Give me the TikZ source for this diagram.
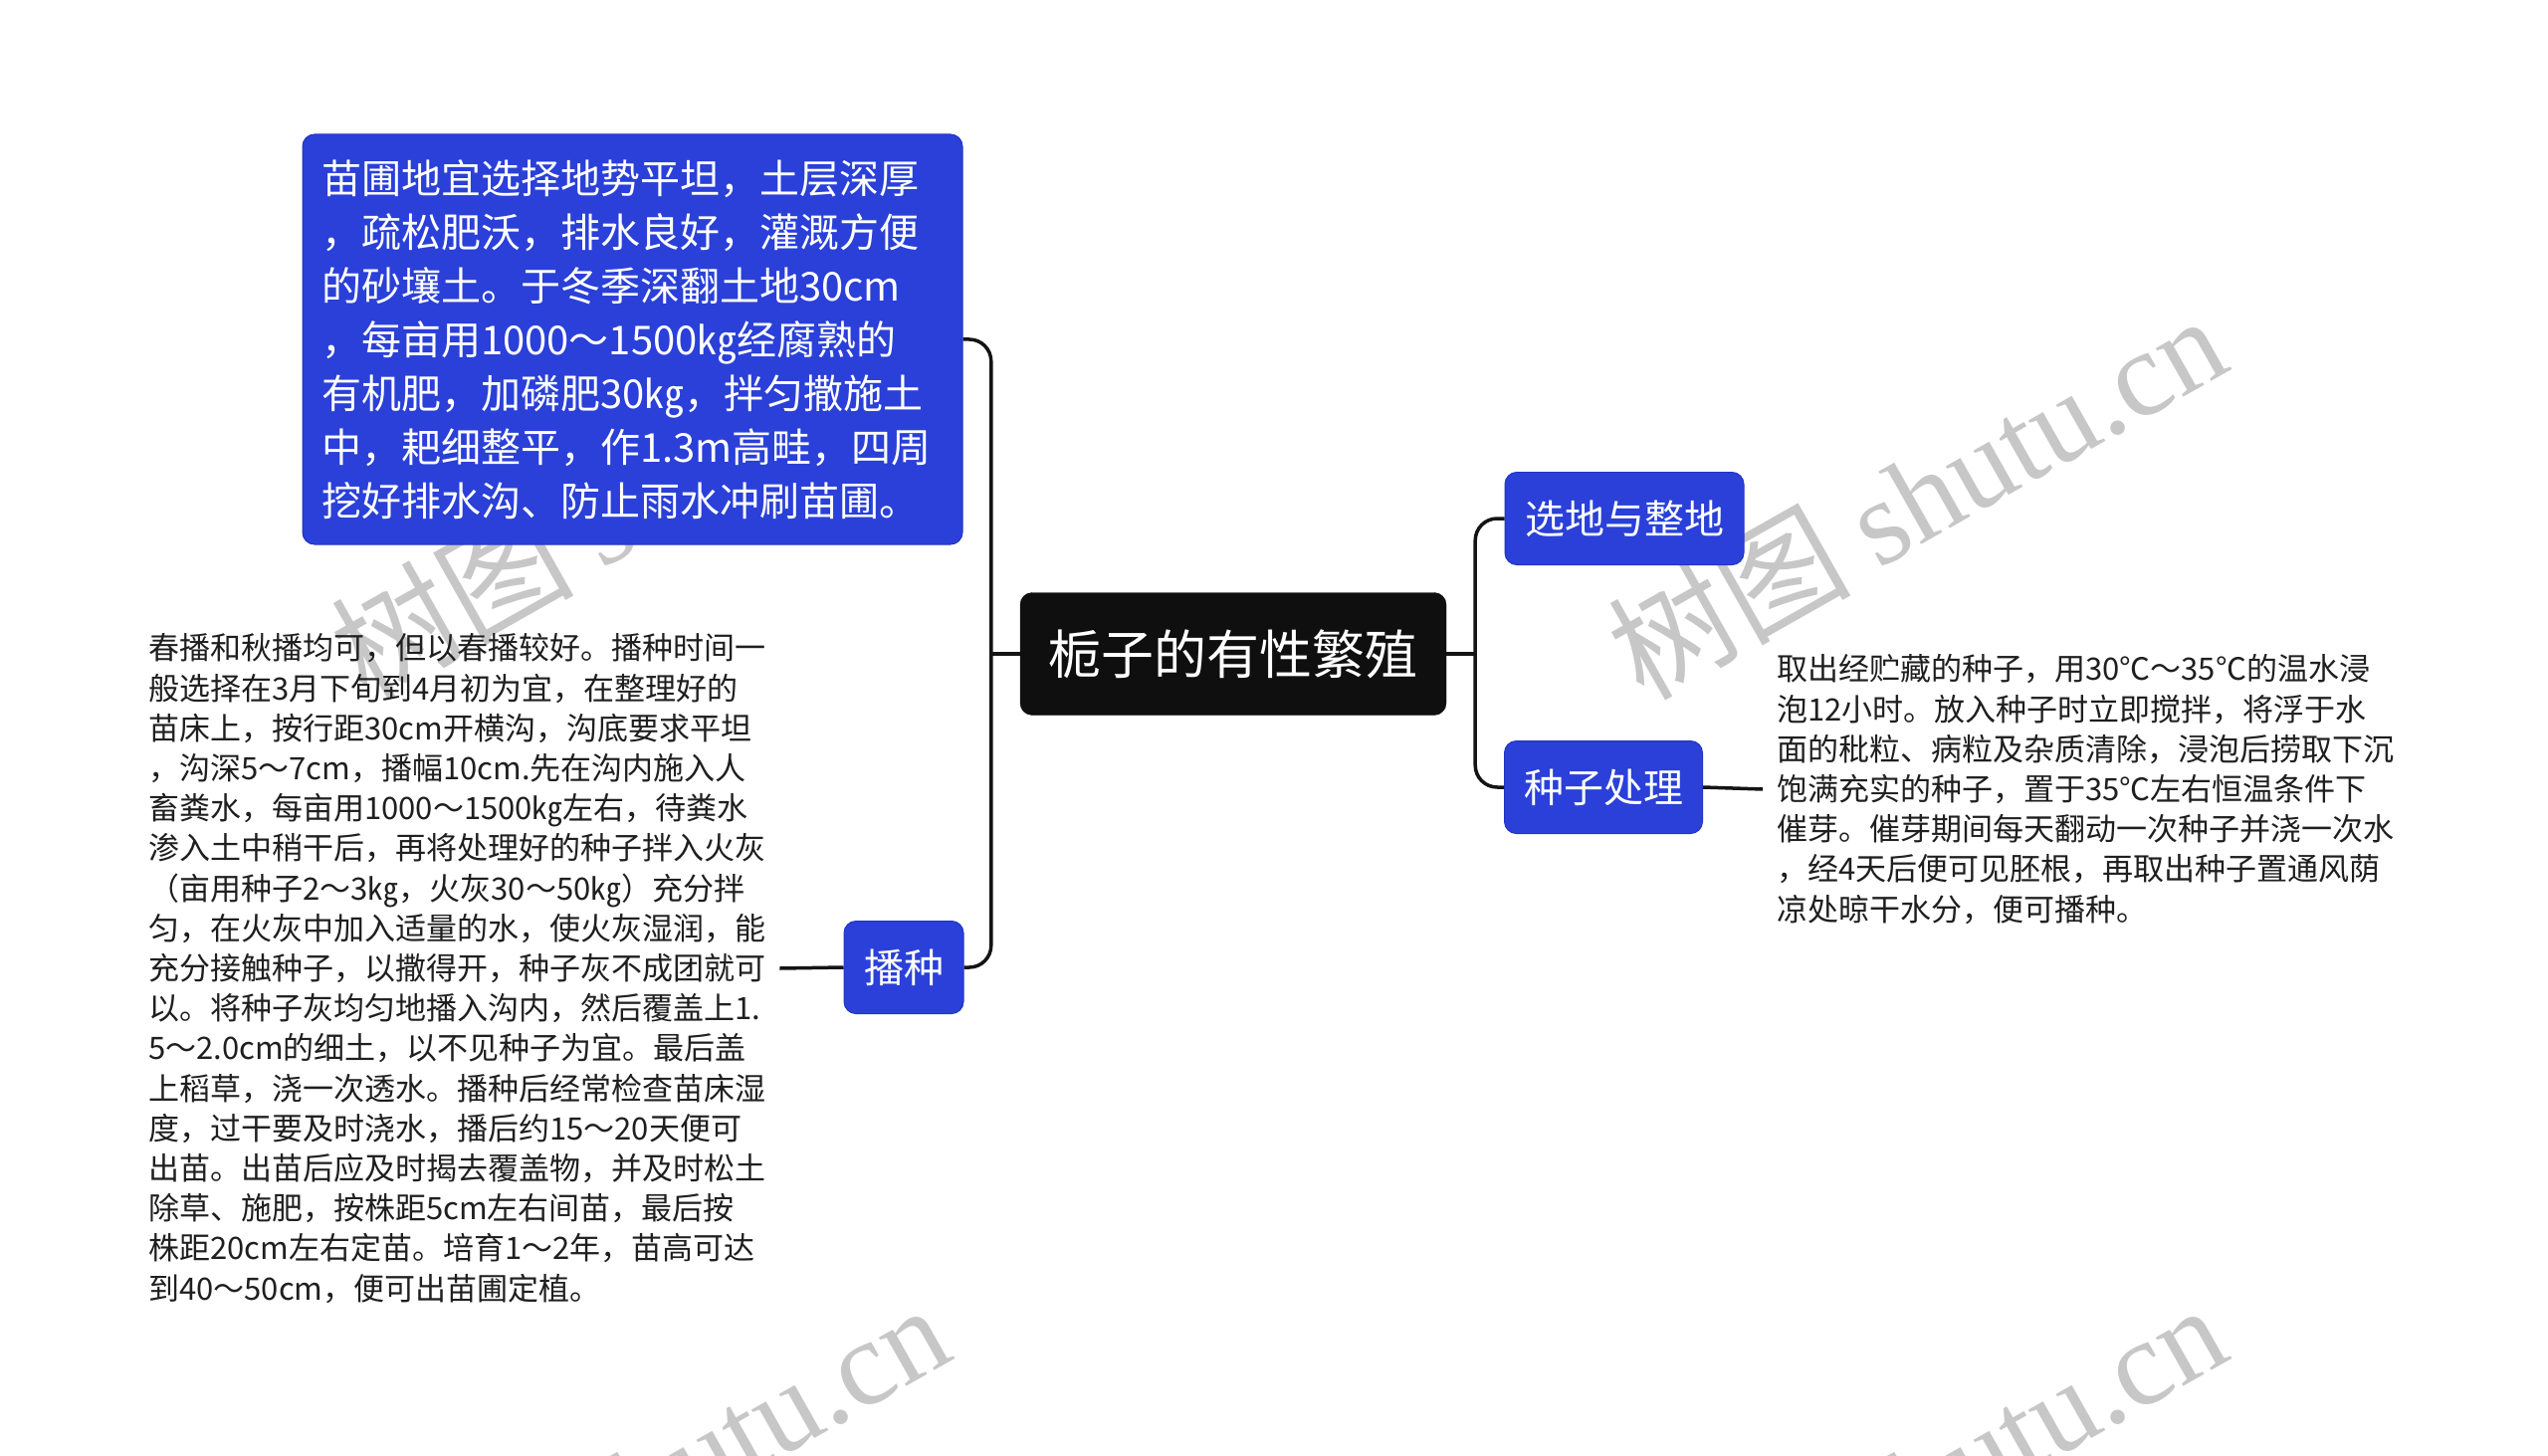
\documentclass[tikz,border=0pt]{standalone}
\usepackage{fontspec}
\setmainfont{Noto Sans CJK SC}
\newfontfamily\wmlatin{Liberation Serif}
\usetikzlibrary{calc}
\definecolor{nodeblue}{HTML}{2A40D8}
\definecolor{nodeblueline}{HTML}{2235C4}
\definecolor{rootblack}{HTML}{0F0F0F}
\tikzset{
  rootbox/.style={fill=rootblack, draw=rootblack, rounded corners=12pt, text=white,
    minimum width=428pt, minimum height=123pt, inner sep=0pt,
    font=\fontsize{53}{60}\selectfont},
  bluebox/.style={fill=nodeblue, draw=nodeblueline, line width=1pt, rounded corners=12pt, text=white,
    minimum height=93pt, inner sep=0pt, font=\fontsize{40}{48}\selectfont},
  bigbox/.style={fill=nodeblue, draw=nodeblueline, line width=1pt,
    rounded corners=12pt, text=white,
    text width=625pt, inner xsep=19pt, inner ysep=10pt, minimum height=412pt, align=left,
    font=\fontsize{40}{54}\selectfont},
  plaintext/.style={text=black!88, align=left, inner xsep=14pt, inner ysep=0pt,
    font=\fontsize{31}{40.2}\selectfont},
  conn/.style={line width=3.5pt, draw=black!92, rounded corners=22pt},
  wm/.style={rotate=29.5, anchor=base west, inner sep=0pt, text=black!22,
    font=\fontsize{122}{122}\selectfont}
}
\begin{document}
\begin{tikzpicture}[x=1pt,y=-1pt]
\useasboundingbox (0,0) rectangle (2560,1463);
\fill[white] (0,0) rectangle (2560,1463);

\begin{scope}
\clip (0,0) rectangle (2560,1463);
\node[wm] (wm1) at (368,706) {树图 {\wmlatin shutu.cn}};
\node[wm] (wm2) at (1651,706) {树图 {\wmlatin shutu.cn}};
\node[wm] (wm3) at (368,1700) {树图 {\wmlatin shutu.cn}};
\node[wm] (wm4) at (1651,1700) {树图 {\wmlatin shutu.cn}};
\end{scope}

\node[rootbox] (root) at (1239,657) {栀子的有性繁殖};
\node[bluebox, minimum width=240pt] (xuandi) at (1632,521) {选地与整地};
\node[bluebox, minimum width=199pt] (zhongzi) at (1611,791) {种子处理};
\node[bluebox, minimum width=120pt] (bozhong) at (908,972) {播种};

\node[bigbox] (topbox) at (635.5,341) {苗圃地宜选择地势平坦，土层深厚\\
，疏松肥沃，排水良好，灌溉方便\\
的砂壤土。于冬季深翻土地30cm\\
，每亩用1000～1500㎏经腐熟的\\
有机肥，加磷肥30㎏，拌匀撒施土\\
中，耙细整平，作1.3m高畦，四周\\
挖好排水沟、防止雨水冲刷苗圃。};

\node[plaintext, anchor=west] (zhongziText) at (1771,793) {取出经贮藏的种子，用30℃～35℃的温水浸\\
泡12小时。放入种子时立即搅拌，将浮于水\\
面的秕粒、病粒及杂质清除，浸泡后捞取下沉\\
饱满充实的种子，置于35℃左右恒温条件下\\
催芽。催芽期间每天翻动一次种子并浇一次水\\
，经4天后便可见胚根，再取出种子置通风荫\\
凉处晾干水分，便可播种。};

\node[plaintext, anchor=west] (bozhongText) at (135,973) {春播和秋播均可，但以春播较好。播种时间一\\
般选择在3月下旬到4月初为宜，在整理好的\\
苗床上，按行距30cm开横沟，沟底要求平坦\\
，沟深5～7cm，播幅10cm.先在沟内施入人\\
畜粪水，每亩用1000～1500㎏左右，待粪水\\
渗入土中稍干后，再将处理好的种子拌入火灰\\
（亩用种子2～3㎏，火灰30～50㎏）充分拌\\
匀，在火灰中加入适量的水，使火灰湿润，能\\
充分接触种子，以撒得开，种子灰不成团就可\\
以。将种子灰均匀地播入沟内，然后覆盖上1.\\
5～2.0cm的细土，以不见种子为宜。最后盖\\
上稻草，浇一次透水。播种后经常检查苗床湿\\
度，过干要及时浇水，播后约15～20天便可\\
出苗。出苗后应及时揭去覆盖物，并及时松土\\
除草、施肥，按株距5cm左右间苗，最后按\\
株距20cm左右定苗。培育1～2年，苗高可达\\
到40～50cm，便可出苗圃定植。};

\coordinate (jl) at ($(root.west)+(-29,0)$);
\coordinate (jr) at ($(root.east)+(29,0)$);
\draw[conn] (root.west) -- (jl);
\draw[conn] (jl) |- (topbox.east);
\draw[conn] (jl) |- (bozhong.east);
\draw[conn] (root.east) -- (jr);
\draw[conn] (jr) |- (xuandi.west);
\draw[conn] (jr) |- (zhongzi.west);
\draw[conn] (zhongzi.east) -- (zhongziText.west);
\draw[conn] (bozhong.west) -- (bozhongText.east);
\end{tikzpicture}
\end{document}
